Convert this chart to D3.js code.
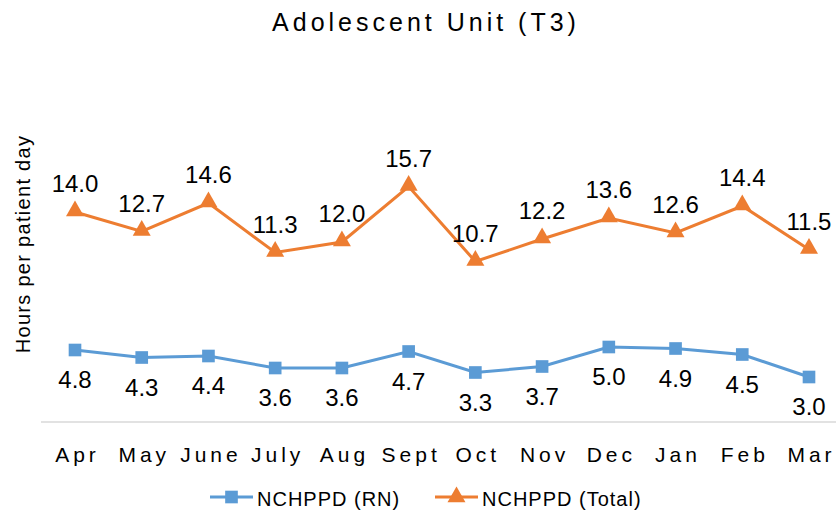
<!DOCTYPE html>
<html><head><meta charset="utf-8">
<script src="https://cdn.jsdelivr.net/npm/d3@7"></script>
<style>body{margin:0;background:#fff;} svg{display:block;}</style>
</head><body>
<script>
const categories = ["Apr","May","June","July","Aug","Sept","Oct","Nov","Dec","Jan","Feb","Mar"];
const rnValues = [4.8,4.3,4.4,3.6,3.6,4.7,3.3,3.7,5.0,4.9,4.5,3.0];
const totalValues = [14.0,12.7,14.6,11.3,12.0,15.7,10.7,12.2,13.6,12.6,14.4,11.5];
const seriesNames = ["NCHPPD (RN)","NCHPPD (Total)"];

const W=837,H=515;
const svg=d3.select("body").append("svg").attr("width",W).attr("height",H);
const x=d3.scalePoint().domain(categories).range([75,809]);
const y=d3.scaleLinear().domain([0,20]).range([422,122]);
const blue="#5B9BD5", orange="#ED7D31";
const font="'Liberation Sans', Arial, sans-serif";

svg.append("text").attr("x",424+2).attr("y",31).attr("text-anchor","middle")
  .attr("font-family",font)
  .attr("font-size",25).attr("letter-spacing",4).attr("fill","#000").text("Adolescent Unit (T3)");

svg.append("text").attr("transform","translate(30,244) rotate(-90)").attr("text-anchor","middle")
  .attr("font-family",font).attr("font-size",20).attr("letter-spacing",1.3).attr("fill","#000").text("Hours per patient day");

// x axis
const xa=svg.append("g").attr("transform","translate(0,422)")
  .call(d3.axisBottom(x).tickSize(0).tickPadding(0));
xa.select(".domain").remove();
xa.append("line").attr("x1",41).attr("x2",836).attr("stroke","#d9d9d9").attr("stroke-width",1.5);
xa.selectAll(".tick text").attr("y",40).attr("dy",0).attr("dx",2).attr("font-family",font).attr("font-size",21)
  .attr("letter-spacing",4).attr("fill","#000");

const line=d3.line().x((d,i)=>x(categories[i])).y(d=>y(d));
svg.append("path").datum(rnValues).attr("d",line).attr("fill","none").attr("stroke",blue).attr("stroke-width",3);
svg.append("path").datum(totalValues).attr("d",line).attr("fill","none").attr("stroke",orange).attr("stroke-width",3);

const sq=d3.symbol().type(d3.symbolSquare).size(160);
const tri=d3.symbol().type(d3.symbolTriangle).size(140);
svg.selectAll(".rnm").data(rnValues).join("path").attr("d",sq)
  .attr("transform",(d,i)=>`translate(${x(categories[i])},${y(d)})`).attr("fill",blue);
svg.selectAll(".tm").data(totalValues).join("path").attr("d",tri)
  .attr("transform",(d,i)=>`translate(${x(categories[i])},${y(d)-1})`).attr("fill",orange);

svg.selectAll(".rnl").data(rnValues).join("text").attr("x",(d,i)=>x(categories[i])).attr("y",d=>y(d)+38)
  .attr("text-anchor","middle").attr("font-family",font).attr("font-size",24).attr("fill","#000").text(d=>d.toFixed(1));
svg.selectAll(".tl").data(totalValues).join("text").attr("x",(d,i)=>x(categories[i])).attr("y",d=>y(d)-20)
  .attr("text-anchor","middle").attr("font-family",font).attr("font-size",24).attr("fill","#000").text(d=>d.toFixed(1));

// legend
const lg=svg.append("g");
const items=[{n:seriesNames[0],c:blue,s:sq,x:210},{n:seriesNames[1],c:orange,s:tri,x:435}];
items.forEach(it=>{
  lg.append("line").attr("x1",it.x).attr("x2",it.x+43).attr("y1",497).attr("y2",497).attr("stroke",it.c).attr("stroke-width",3);
  lg.append("path").attr("d",it.s).attr("transform",`translate(${it.x+21.5},497)`).attr("fill",it.c);
  lg.append("text").attr("x",it.x+47).attr("y",506).attr("font-family",font).attr("font-size",20).attr("letter-spacing",1).attr("fill","#000").text(it.n);
});
</script>
</body></html>
